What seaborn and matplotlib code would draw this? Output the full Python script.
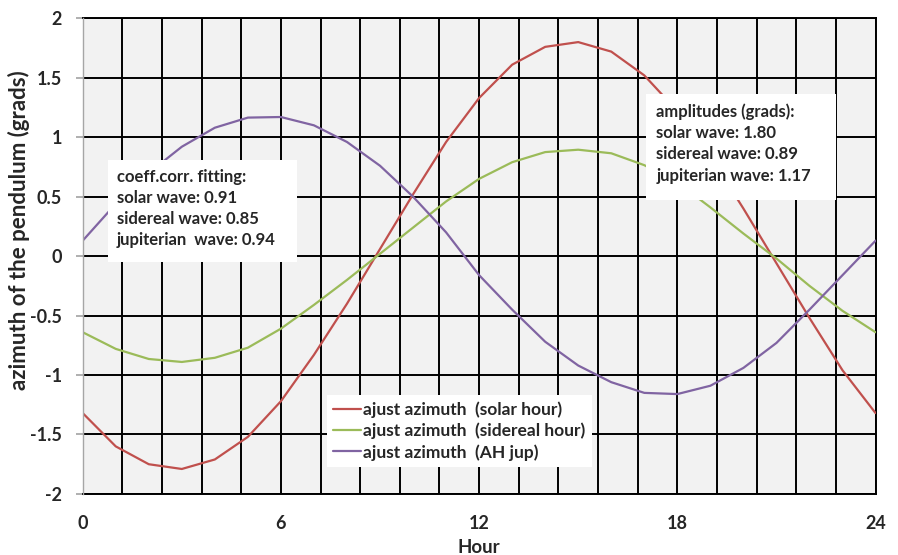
import numpy as np
import pandas as pd
import matplotlib
matplotlib.use("Agg")
import matplotlib.pyplot as plt
import seaborn as sns
from matplotlib.ticker import MultipleLocator
from matplotlib.patches import Rectangle

hours = list(range(25))
solar = [-1.32, -1.60, -1.75, -1.79, -1.71, -1.52, -1.22, -0.83, -0.40, 0.06, 0.52, 0.96, 1.33,
         1.61, 1.76, 1.80, 1.72, 1.52, 1.22, 0.84, 0.40, -0.06, -0.52, -0.96, -1.32]
sidereal = [-0.64, -0.78, -0.865, -0.89, -0.855, -0.77, -0.61, -0.41, -0.20, 0.02, 0.24, 0.46, 0.65,
            0.79, 0.875, 0.895, 0.865, 0.765, 0.62, 0.41, 0.19, -0.02, -0.25, -0.46, -0.64]
jupiter = [0.13, 0.44, 0.70, 0.92, 1.08, 1.165, 1.17, 1.10, 0.96, 0.76, 0.50, 0.20, -0.16,
           -0.45, -0.72, -0.92, -1.06, -1.15, -1.16, -1.09, -0.94, -0.73, -0.45, -0.16, 0.13]
series_names = ["ajust azimuth  (solar hour)", "ajust azimuth  (sidereal hour)", "ajust azimuth  (AH jup)"]
colors = ["#C0504D", "#9BBB59", "#8064A2"]
x_ticks = [0, 6, 12, 18, 24]
y_ticks = [-2, -1.5, -1, -0.5, 0, 0.5, 1, 1.5, 2]
box1_lines = ["coeff.corr. fitting:", "solar wave: 0.91", "sidereal wave: 0.85", "jupiterian  wave: 0.94"]
box2_lines = ["amplitudes (grads):", "solar wave: 1.80", "sidereal wave: 0.89", "jupiterian wave: 1.17"]

df = pd.concat([
    pd.DataFrame({"Hour": hours, "value": vals, "series": name})
    for vals, name in zip([solar, sidereal, jupiter], series_names)
])

sns.set_theme(style="white")
plt.rcParams["font.family"] = ["Lato", "DejaVu Sans"]
plt.rcParams["font.weight"] = "bold"

fig = plt.figure(figsize=(8.98, 5.55), dpi=100)
ax = fig.add_axes([0.0921, 0.110, 0.8829, 0.857])
ax.set_facecolor("#F2F2F2")

sns.lineplot(data=df, x="Hour", y="value", hue="series", palette=colors, ax=ax,
             linewidth=1.6, legend=True, zorder=5)

ax.set_xlim(0, 24)
ax.set_ylim(-2, 2)
ax.set_xticks(x_ticks)
ax.set_xticklabels([str(t) for t in x_ticks], fontsize=13, fontweight="bold")
ax.xaxis.set_minor_locator(MultipleLocator(1.2))
ax.set_yticks(y_ticks)
ax.set_yticklabels([f"{t:g}" for t in y_ticks], fontsize=13, fontweight="bold")

ax.grid(True, which="both", axis="x", color="black", linewidth=1.4)
ax.grid(True, which="major", axis="y", color="black", linewidth=1.4)
ax.set_axisbelow(True)
ax.tick_params(axis="x", which="both", length=0, pad=15)
ax.tick_params(axis="y", which="major", length=5, color="#A6A6A6", pad=10, direction="out", left=True)

for s in ["top", "right", "bottom"]:
    ax.spines[s].set_color("black")
    ax.spines[s].set_linewidth(1.4)
ax.spines["left"].set_color("#A6A6A6")
ax.spines["left"].set_linewidth(1.0)
ax.spines["left"].set_zorder(6)

ax.set_xlabel("Hour", fontsize=13.5, fontweight="bold")
ax.xaxis.set_label_coords(0.5, -0.094)
ax.set_ylabel("azimuth of the pendulum (grads)", fontsize=16, fontweight="bold")
ax.yaxis.set_label_coords(-0.066, 0.555)

leg = ax.legend(loc="upper left", bbox_to_anchor=(0.308, 0.208), frameon=True, fancybox=False,
                prop={"size": 12.5, "weight": "bold"}, handlelength=1.6, handletextpad=0.15,
                labelspacing=0.28, borderpad=0.35, borderaxespad=0)
leg.get_frame().set_edgecolor("white")
leg.get_frame().set_facecolor("white")
leg.get_frame().set_alpha(1)
leg.get_frame().set_linewidth(0)
leg.set_zorder(10)

# text boxes (white rectangles, axes coordinates)
ax.add_patch(Rectangle((0.032, 0.487), 0.238, 0.215, transform=ax.transAxes,
                       facecolor="white", edgecolor="none", zorder=9))
ax.add_patch(Rectangle((0.7105, 0.618), 0.2395, 0.222, transform=ax.transAxes,
                       facecolor="white", edgecolor="none", zorder=9))
for i, line in enumerate(box1_lines):
    ax.text(0.0433, 0.667 - i * 0.0445, line, transform=ax.transAxes, fontsize=12,
            fontweight="bold", va="center", ha="left", zorder=10)
for i, line in enumerate(box2_lines):
    ax.text(0.7235, 0.803 - i * 0.0445, line, transform=ax.transAxes, fontsize=12,
            fontweight="bold", va="center", ha="left", zorder=10)

fig.savefig("out.png", dpi=100)
